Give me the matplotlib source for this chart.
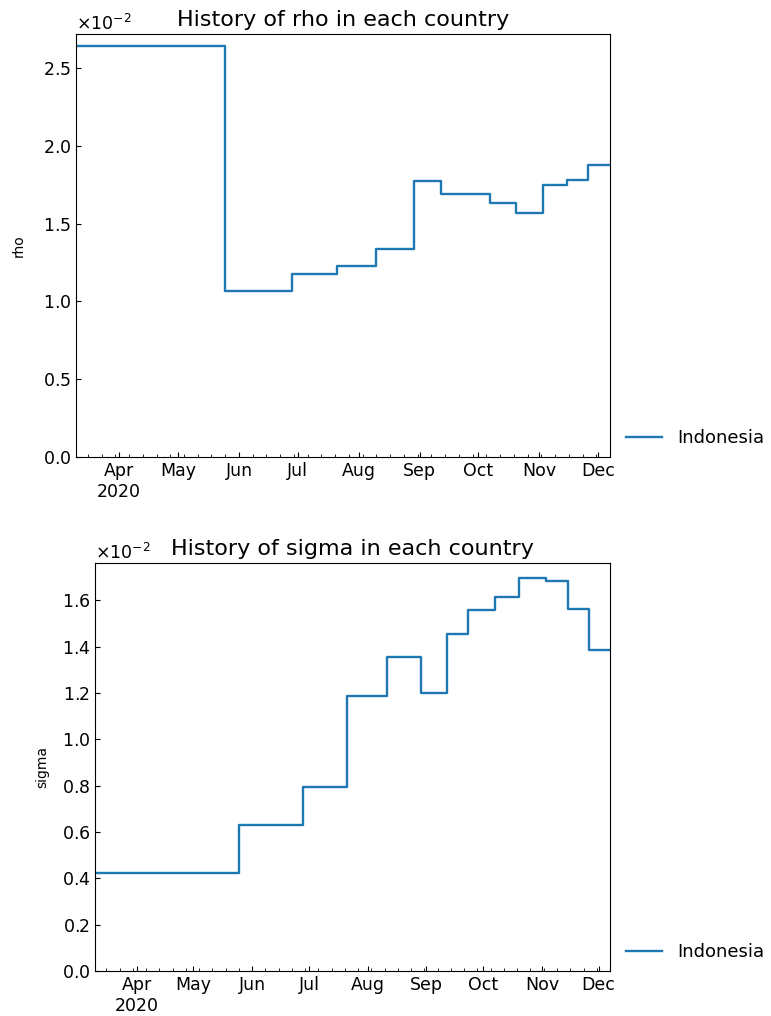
import numpy as np
import matplotlib
matplotlib.use("Agg")
import matplotlib.pyplot as plt
import matplotlib.dates as mdates
from matplotlib.ticker import FuncFormatter, ScalarFormatter
from datetime import datetime

# ─────────────────────────────────────────
# Dati (in unita 1e-2)
# ─────────────────────────────────────────

start_date = "2020-03-10"
end_date = "2020-12-07"
country = "Indonesia"

rho_dates = ["2020-03-10", "2020-05-25", "2020-06-28", "2020-07-21", "2020-08-10",
             "2020-08-29", "2020-09-12", "2020-10-07", "2020-10-20", "2020-11-03",
             "2020-11-15", "2020-11-26"]
rho_values = [2.64, 1.07, 1.175, 1.225, 1.34,
              1.775, 1.69, 1.632, 1.568, 1.748,
              1.78, 1.877]

sigma_dates = ["2020-03-10", "2020-05-25", "2020-06-28", "2020-07-21", "2020-08-11",
               "2020-08-29", "2020-09-12", "2020-09-23", "2020-10-07", "2020-10-20",
               "2020-11-03", "2020-11-15", "2020-11-26"]
sigma_values = [0.424, 0.631, 0.796, 1.188, 1.354,
                1.202, 1.453, 1.557, 1.613, 1.698,
                1.684, 1.561, 1.384]

plt.rcParams["font.size"] = 12.5
plt.rcParams["axes.formatter.use_mathtext"] = True


def to_dates(strs):
    return [datetime.strptime(s, "%Y-%m-%d") for s in strs]


def month_fmt(x, pos):
    d = mdates.num2date(x)
    lab = d.strftime("%b")
    if pos == 0:
        lab += "\n" + d.strftime("%Y")
    return lab


def plot_param(ax, dates, values, name, labelpad):
    d = to_dates(dates) + to_dates([end_date])
    v = np.array(list(values) + [values[-1]]) * 1e-2
    ax.plot(d, v, drawstyle="steps-post", color="#1f77b4", lw=1.7, label=country)

    ax.set_xlim(to_dates([start_date])[0], to_dates([end_date])[0])
    lo, hi = min(v), max(v)
    ax.set_ylim(0, hi + 0.05 * (hi - lo))

    ax.xaxis.set_major_locator(mdates.MonthLocator())
    ax.xaxis.set_minor_locator(mdates.WeekdayLocator(byweekday=mdates.MO))
    ax.xaxis.set_major_formatter(FuncFormatter(month_fmt))

    fmt = ScalarFormatter(useMathText=True)
    fmt.set_powerlimits((-1, 1))
    ax.yaxis.set_major_formatter(fmt)

    ax.tick_params(which="both", direction="in", top=False, right=False)
    ax.tick_params(which="major", length=3.5)
    ax.tick_params(which="minor", length=2)

    ax.set_title(f"History of {name} in each country", fontsize=16)
    ax.set_ylabel(name, fontsize=10, labelpad=labelpad)
    ax.legend(loc="lower left", bbox_to_anchor=(1.0, -0.015), frameon=False,
              fontsize=13)


fig = plt.figure(figsize=(7.71, 10.16), dpi=100)
ax1 = fig.add_axes([0.0986, 0.5502, 0.6926, 0.4163])
ax2 = fig.add_axes([0.1232, 0.0443, 0.668, 0.4016])

plot_param(ax1, rho_dates, rho_values, "rho", 12.4)
plot_param(ax2, sigma_dates, sigma_values, "sigma", 8.8)

fig.savefig("out.png", dpi=100)
